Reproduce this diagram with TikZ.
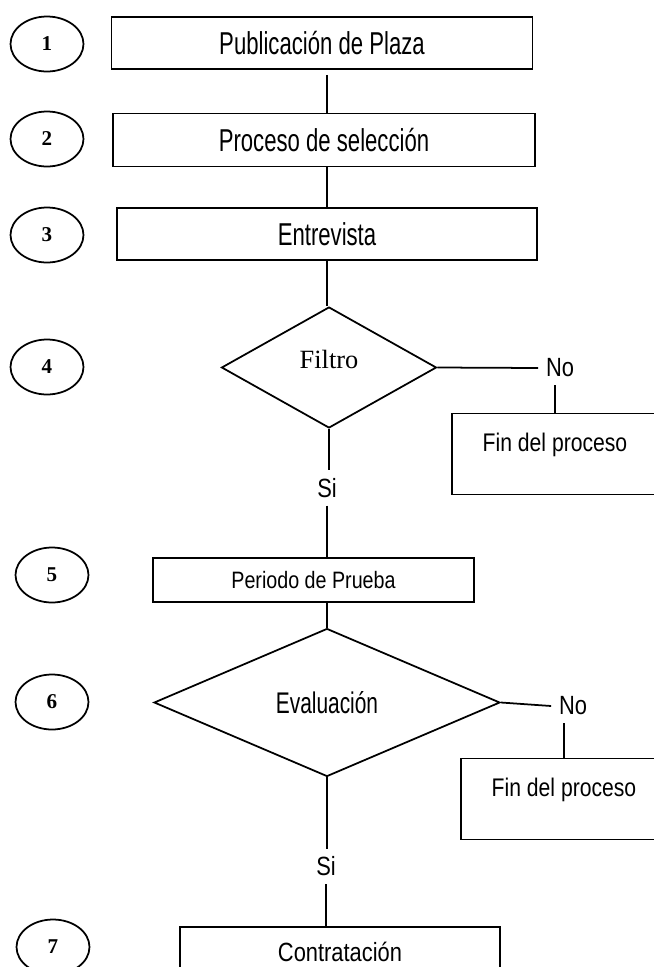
\documentclass[tikz,border=0pt]{standalone}
\usepackage{fontspec}
\setmainfont{Liberation Sans}[FakeStretch=0.83]
\newfontfamily\tallsans{Liberation Sans}[FakeStretch=0.7]
\newfontfamily\romanfont{Liberation Serif}
\usetikzlibrary{shapes.geometric}

\begin{document}
\begin{tikzpicture}[x=0.02cm,y=-0.02cm,line width=1pt,
 num/.style={draw,ellipse,minimum width=1.46cm,minimum height=1.1cm,inner sep=0pt,font=\romanfont\bfseries\fontsize{12}{14}\selectfont},
 box/.style={draw,rectangle,inner sep=0pt,font=\tallsans\fontsize{18}{21}\selectfont},
 decision/.style={draw,diamond,inner sep=0pt,font=\tallsans\fontsize{17}{20}\selectfont},
 endbox/.style={draw,minimum width=4.13cm,minimum height=1.62cm,text depth=0.47cm,font=\fontsize{14.5}{17}\selectfont},
 answer/.style={inner sep=4pt,font=\fontsize{15}{18}\selectfont}]
\useasboundingbox (0,0) rectangle (653,967);
\node[num] (n1) at (47,44) {1};
\node[num] (n2) at (47,139) {2};
\node[num] (n3) at (47,235) {3};
\node[num] (n4) at (47,367) {4};
\node[num] (n5) at (52,575) {5};
\node[num] (n6) at (52,702) {6};
\node[num] (n7) at (53,947) {7};
\node[box,minimum width=8.42cm,minimum height=1.04cm] (plaza) at (322,43) {Publicación de Plaza};
\node[box,minimum width=8.44cm,minimum height=1.06cm] (seleccion) at (324,140) {Proceso de selección};
\node[box,minimum width=8.4cm,minimum height=1.04cm] (entrevista) at (327,234) {Entrevista};
\node[decision,minimum width=4.3cm,minimum height=2.42cm,text depth=0.33cm,font=\romanfont\fontsize{15}{18}\selectfont] (filtro) at (329,367.5) {Filtro};
\node[answer] (no1) at (560,368) {No};
\node[endbox] (fin1) at (555,454) {Fin del proceso};
\node[answer] (si1) at (327,488) {Si};
\node[box,minimum width=6.42cm,minimum height=0.88cm,font=\fontsize{13.5}{16}\selectfont] (prueba) at (313.5,580) {Periodo de Prueba};
\node[decision,minimum width=6.92cm,minimum height=2.96cm] (evaluacion) at (327,702.5) {Evaluación};
\node[answer] (no2) at (573,706) {No};
\node[endbox] (fin2) at (564,799) {Fin del proceso};
\node[answer] (si2) at (326,866.5) {Si};
\node[box,minimum width=6.4cm,minimum height=1.01cm,font=\fontsize{15}{18}\selectfont] (contrato) at (340,952) {Contratación};
\draw[shorten <=0.1cm] (plaza.south -| entrevista) -- (seleccion.north -| entrevista);
\draw (seleccion.south -| entrevista) -- (entrevista.north);
\draw (entrevista.south) -- (entrevista.south |- filtro.north);
\draw (filtro.east) -- (no1.west);
\draw (no1.south -| fin1.north) -- (fin1.north);
\draw (filtro.south) -- (filtro.south |- si1.north);
\draw (si1.south) -- (si1.south |- prueba.north);
\draw (prueba.south -| evaluacion.north) -- (evaluacion.north);
\draw (evaluacion.east) -- (no2.west);
\draw (no2.south -| fin2.north) -- (fin2.north);
\draw (evaluacion.south) -- (evaluacion.south |- si2.north);
\draw (si2.south) -- (si2.south |- contrato.north);
\end{tikzpicture}
\end{document}
